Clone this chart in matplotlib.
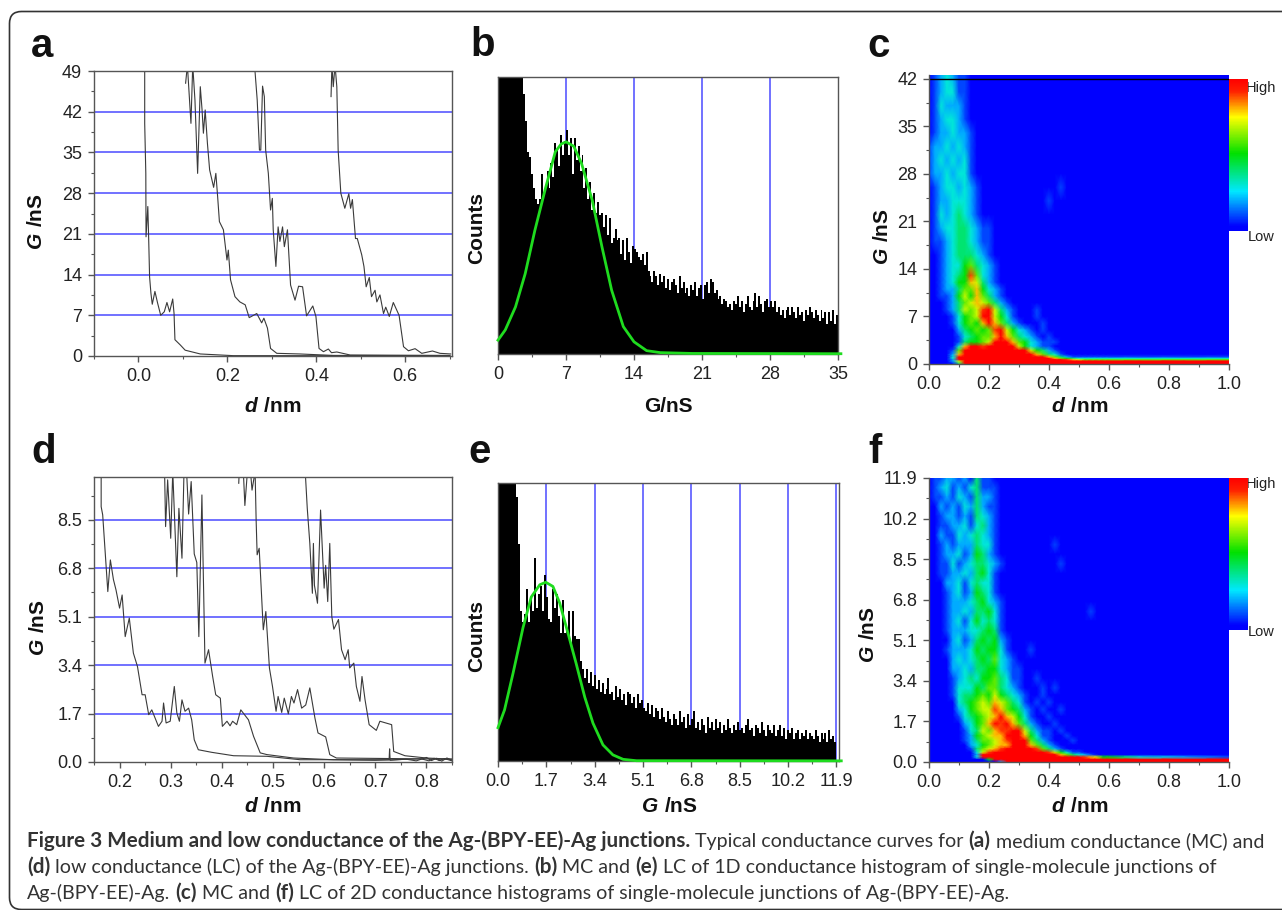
import numpy as np
import matplotlib
matplotlib.use('Agg')
import matplotlib.pyplot as plt
from matplotlib.colors import LinearSegmentedColormap
from matplotlib.patches import FancyBboxPatch
from matplotlib.ticker import MultipleLocator

plt.rcParams['font.family'] = ['Liberation Sans', 'DejaVu Sans']
plt.rcParams['mathtext.fontset'] = 'custom'
plt.rcParams['mathtext.bf'] = 'Liberation Sans:bold'
plt.rcParams['mathtext.bfit'] = 'Liberation Sans:italic:bold'

W, H = 1282, 910

# panel a, four traces (d in nm, G in nS)
a1_d = [0.014, 0.014, 0.0165, 0.017, 0.021, 0.023, 0.025, 0.028, 0.031, 0.037, 0.043, 0.050, 0.058, 0.064, 0.070, 0.077, 0.080, 0.082, 0.094, 0.105, 0.139, 0.213, 0.7]
a1_g = [50, 40, 31.4, 20.5, 25.7, 20, 13.6, 10.8, 8.9, 11.1, 9.1, 7, 7.6, 9.2, 7.6, 9.8, 7.3, 2.8, 1.9, 1.0, 0.35, 0.06, 0.05]
a2_d = [0.106, 0.110, 0.118, 0.122, 0.127, 0.133, 0.139, 0.143, 0.146, 0.150, 0.155, 0.160, 0.169, 0.174, 0.178, 0.182, 0.191, 0.199, 0.202, 0.207, 0.217, 0.228, 0.240, 0.249, 0.266, 0.277, 0.282, 0.290, 0.297, 0.311, 0.363, 0.438, 0.7]
a2_g = [46.9, 50, 40, 50, 44, 31.4, 46.3, 42.3, 38.3, 42.3, 36.6, 32, 29, 31.4, 27.4, 23.1, 21.7, 16.5, 18.2, 13.1, 10.2, 9.3, 8.8, 6.6, 7.3, 5.7, 6.5, 4.8, 1.3, 0.46, 0.35, 0.1, 0.05]
a3_d = [0.261, 0.267, 0.272, 0.275, 0.279, 0.283, 0.286, 0.292, 0.297, 0.301, 0.303, 0.309, 0.314, 0.318, 0.324, 0.328, 0.335, 0.342, 0.352, 0.360, 0.369, 0.378, 0.392, 0.399, 0.406, 0.416, 0.427, 0.434, 0.446, 0.476, 0.7]
a3_g = [50, 44, 35.4, 35.4, 46.4, 44.6, 35.4, 31.4, 25.1, 27.1, 21.7, 15.4, 22.2, 19.7, 22.2, 18.8, 21.7, 12.2, 9.6, 12, 11.9, 6.9, 8.6, 6.8, 1.3, 0.74, 1.2, 0.57, 0.69, 0.17, 0.1]
a4_d = [0.433, 0.435, 0.438, 0.442, 0.446, 0.449, 0.455, 0.464, 0.473, 0.477, 0.481, 0.488, 0.492, 0.502, 0.507, 0.512, 0.519, 0.524, 0.532, 0.536, 0.543, 0.551, 0.556, 0.564, 0.573, 0.586, 0.596, 0.607, 0.622, 0.637, 0.661, 0.678, 0.702]
a4_g = [44.6, 50, 46.3, 50, 46.3, 35.4, 28, 25.4, 27.9, 25.4, 26.9, 20.2, 20.2, 17.4, 15.4, 11.9, 13.5, 10.2, 11.3, 9.3, 10.5, 7.3, 8.4, 6.8, 9.2, 7, 1.6, 0.9, 1.26, 0.46, 0.86, 0.46, 0.35]

# panel d, four traces
d1_d = [0.164, 0.164, 0.167, 0.177, 0.182, 0.188, 0.193, 0.2, 0.205, 0.211, 0.219, 0.227, 0.235, 0.244, 0.25, 0.257, 0.263, 0.276, 0.283, 0.286, 0.291, 0.299, 0.307, 0.312, 0.317, 0.322, 0.328, 0.335, 0.341, 0.346, 0.354, 0.38, 0.423, 0.488, 0.553, 0.7, 0.727, 0.728, 0.729, 0.76, 0.78, 0.8, 0.81, 0.82, 0.83, 0.84, 0.85]
d1_g = [10.2, 8.96, 8.67, 5.98, 7.09, 6.4, 6.04, 5.4, 5.86, 4.4, 5.05, 3.82, 3.35, 2.36, 2.36, 1.66, 1.83, 1.25, 1.43, 2.07, 1.37, 1.43, 2.65, 1.72, 1.43, 2.18, 1.78, 1.89, 1.48, 0.78, 0.43, 0.34, 0.22, 0.2, 0.08, 0.08, 0.08, 0.46, 0.06, 0.1, 0.04, 0.16, 0.05, 0.13, 0.03, 0.14, 0.06]
d2_d = [0.288, 0.29, 0.294, 0.3, 0.304, 0.312, 0.316, 0.322, 0.326, 0.331, 0.335, 0.34, 0.346, 0.351, 0.355, 0.361, 0.363, 0.367, 0.374, 0.382, 0.388, 0.397, 0.401, 0.41, 0.416, 0.421, 0.429, 0.437, 0.452, 0.462, 0.475, 0.488, 0.54, 0.618, 0.7, 0.79, 0.805, 0.815, 0.825, 0.835, 0.85]
d2_g = [10.2, 8.26, 9.9, 7.85, 10.2, 6.5, 8.9, 7.15, 10.2, 10.2, 8.7, 9.84, 7.3, 7, 4.4, 9.37, 7.3, 3.47, 3.94, 3, 2.36, 2.24, 1.25, 1.43, 1.27, 1.43, 1.31, 1.83, 1.48, 0.9, 0.32, 0.26, 0.14, 0.08, 0.06, 0.11, 0.04, 0.13, 0.05, 0.12, 0.04]
d3_d = [0.433, 0.434, 0.442, 0.445, 0.45, 0.456, 0.459, 0.465, 0.467, 0.469, 0.473, 0.481, 0.486, 0.493, 0.499, 0.506, 0.51, 0.517, 0.522, 0.53, 0.536, 0.541, 0.548, 0.556, 0.564, 0.572, 0.582, 0.588, 0.603, 0.611, 0.624, 0.85]
d3_g = [9.78, 10.2, 10.2, 9, 10.2, 10.2, 9.54, 10.2, 8.5, 7.27, 7.5, 4.64, 5.28, 3.3, 2.65, 1.78, 2.3, 1.74, 2.24, 1.69, 2.3, 2.07, 2.54, 1.89, 2, 2.6, 1.54, 1.02, 0.88, 0.26, 0.14, 0.1]
d4_d = [0.563, 0.567, 0.572, 0.577, 0.579, 0.581, 0.587, 0.593, 0.6, 0.603, 0.607, 0.611, 0.615, 0.619, 0.628, 0.634, 0.641, 0.647, 0.65, 0.658, 0.663, 0.67, 0.674, 0.68, 0.688, 0.702, 0.709, 0.732, 0.736, 0.758, 0.8, 0.85]
d4_g = [10.2, 8.9, 7.67, 5.92, 7.67, 6.2, 5.57, 8.84, 6.1, 6.9, 5.63, 7.67, 5.1, 4.66, 5, 3.94, 3.59, 3.94, 3.3, 3.47, 2.65, 2.13, 3, 2.18, 1.31, 1.11, 1.43, 1.31, 0.37, 0.22, 0.14, 0.1]

# panel b, counts as percent of the plot height, one value per 0.2 nS
b_counts = [
    130, 130, 130, 130, 130, 130, 130, 130, 130, 130,
    130, 130, 130, 94, 84, 73, 71, 65, 60, 56,
    54, 56, 65, 57, 60, 66, 60, 69, 64, 76,
    74, 68, 79, 72, 77, 81, 72, 78, 65, 78,
    70, 75, 66, 72, 60, 67, 56, 62, 52, 58,
    51, 55, 50, 51, 46, 50, 43, 49, 40, 42,
    45, 41, 42, 36, 41, 34, 42, 37, 33, 39,
    38, 37, 35, 34, 36, 32, 37, 30, 28, 26,
    30, 28, 25, 29, 26, 28, 24, 27, 23, 26,
    27, 25, 22, 28, 24, 26, 22, 24, 21, 25,
    23, 26, 21, 24, 25, 20, 25, 26, 22, 27,
    26, 22, 23, 20, 21, 18, 20, 19, 17, 18,
    16, 19, 18, 21, 17, 19, 15, 18, 21, 17,
    16, 19, 22, 17, 21, 18, 15, 19, 20, 17,
    19, 17, 19, 15, 17, 14, 16, 13, 16, 17,
    14, 17, 15, 13, 17, 14, 15, 12, 16, 14,
    17, 15, 13, 16, 14, 12, 16, 13, 15, 11,
    15, 12, 16, 11, 14]
b_fit_x = [0, 0.75, 1.8, 2.8, 3.8, 4.9, 5.9, 6.5, 7, 7.8, 8.6, 9.7, 10.7, 11.7, 12.9, 14, 15.3, 16.7, 20, 35.3]
b_fit_y = [5, 8.7, 17, 29, 44.7, 60, 73, 75.8, 76.6, 75, 68.8, 55.5, 38.7, 23, 9.9, 4.4, 1.2, 0.5, 0.2, 0.1]

# panel e, one value per 0.07 nS
e_counts = [
    130, 130, 130, 130, 130, 130, 130, 130, 130, 95,
    78, 54, 50, 53, 62, 50, 59, 54, 73, 55,
    60, 63, 54, 67, 59, 51, 50, 62, 55, 60,
    52, 46, 58, 46, 48, 54, 42, 54, 45, 44,
    44, 36, 33, 30, 33, 28, 32, 27, 31, 26,
    29, 25, 28, 24, 26, 30, 24, 25, 22, 27,
    23, 26, 22, 24, 20, 25, 24, 21, 23, 19,
    24, 21, 22, 19, 18, 21, 17, 20, 16, 19,
    18, 15, 19, 16, 14, 18, 15, 13, 17, 15,
    13, 18, 14, 16, 12, 17, 13, 15, 18, 12,
    14, 11, 15, 13, 10, 16, 12, 14, 11, 15,
    12, 14, 10, 13, 11, 15, 12, 10, 13, 11,
    14, 11, 12, 10, 13, 15, 11, 12, 9, 13,
    12, 10, 14, 11, 9, 13, 11, 10, 13, 9,
    11, 13, 9, 12, 8, 11, 10, 12, 8, 10,
    11, 8, 10, 9, 11, 8, 10, 9, 8, 11,
    9, 7, 10, 8, 10, 7, 11, 8, 9, 7]
e_fit_x = [0, 0.23, 0.53, 0.88, 1.17, 1.47, 1.68, 1.93, 2.17, 2.46, 2.75, 3.05, 3.34, 3.69, 4.04, 4.4, 4.87, 12.07]
e_fit_y = [12, 18.4, 31.6, 48, 59, 63.4, 64.3, 62.8, 56.8, 46, 35, 23, 13.6, 5.8, 2.2, 0.6, 0.1, 0.05]

# 2D histograms, levels 0-10 (a = 10) read by eye from the colour map
# columns are 0, .02 ... .6, then .7, .85, 1.0 nm
map_d = [0, .02, .04, .06, .08, .1, .12, .14, .16, .18, .2, .22, .24, .26, .28, .3, .32, .34, .36, .38,
         .4, .42, .44, .46, .48, .5, .52, .54, .56, .58, .6, .7, .85, 1.0]
c_g = [42.6, 40, 38, 36, 34, 32, 30, 28, 26, 24, 22, 20, 18, 16, 14.5, 13, 12, 11, 10, 9, 8, 7, 6, 5, 4, 3.2, 2.6, 2, 1.4, 1, .8, .6, .4, 0]
c_levels = [
    "01232 11000 00000 00000 00000 00000 0000",
    "01233 11000 00000 00000 00000 00000 0000",
    "01322 21000 00000 00000 00000 00000 0000",
    "01233 21000 00000 00000 00000 00000 0000",
    "01223 22100 00000 00000 00000 00000 0000",
    "12232 32100 00000 00000 00000 00000 0000",
    "12323 23100 00000 00000 00000 00000 0000",
    "12232 33100 00000 00000 00000 00000 0000",
    "01233 23210 00000 00000 00100 00000 0000",
    "01223 33210 00000 00000 10000 00000 0000",
    "01323 43210 00000 00000 00000 00000 0000",
    "01233 44321 10000 00000 00000 00000 0000",
    "01123 44321 10000 00000 00000 00000 0000",
    "00123 44432 10000 00000 00000 00000 0000",
    "00123 35643 21000 00000 00000 00000 0000",
    "00123 45963 21000 00000 00000 00000 0000",
    "00123 55874 21000 00000 00000 00000 0000",
    "00122 46685 32100 00000 00000 00000 0000",
    "00112 57586 42100 00000 00000 00000 0000",
    "00012 46787 64210 00000 00000 00000 0000",
    "00012 47679 a7421 00010 00000 00000 0000",
    "00001 3567a a7531 00010 00000 00000 0000",
    "00001 35658 a8642 10001 00000 00000 0000",
    "00000 24565 69a75 32101 00000 00000 0000",
    "00000 13456 68a86 43210 10000 00000 0000",
    "00000 14556 7aaa8 65321 11000 00000 0000",
    "00000 38aa9 aaaaa 75321 10000 00000 0000",
    "00001 6aaaa aaaaa aa754 21000 00000 0000",
    "00002 8aaaa aaaaa aaa86 43100 00000 0000",
    "00003 aaaaa aaaaa aaaaa 86421 11111 1111",
    "00003 aaaaa aaaaa aaaaa a8654 33333 3333",
    "00002 aaaaa aaaaa aaaaa aaa98 76666 6666",
    "00002 7aaaa aaaaa aaaaa aaaaa aaaaa aaaa",
    "00000 4aaaa aaaaa aaaaa aaaaa aaaaa aaaa",
]
f_g = [11.9, 11.5, 11.1, 10.7, 10.3, 9.9, 9.5, 9.1, 8.7, 8.3, 7.9, 7.5, 7.1, 6.7, 6.3, 5.9, 5.5, 5.1, 4.7, 4.3, 3.9, 3.5, 3.1, 2.8, 2.5, 2.2, 1.9, 1.6, 1.3, 1.1, .9, .7, .55, .4, .3, .2, .1, 0]
f_levels = [
    "01122 12041 10000 00000 00000 00000 0000",
    "01231 21341 11000 00000 00000 00000 0000",
    "01121 32142 21000 00000 00000 00000 0000",
    "00212 13242 11000 00000 00000 00000 0000",
    "00122 12143 21000 00000 00000 00000 0000",
    "00112 23134 21000 00000 00000 00000 0000",
    "00211 32343 21000 00000 00000 00000 0000",
    "00121 22243 31000 00000 01000 00000 0000",
    "00122 31254 21000 00000 00000 00000 0000",
    "00113 12344 32100 00000 00100 00000 0000",
    "00112 23245 31000 00000 00000 00000 0000",
    "00022 31343 31000 00000 00000 00000 0000",
    "00012 31254 31000 00000 00000 00000 0000",
    "00012 22345 32100 00000 00000 00000 0000",
    "00012 23244 53100 00000 00000 00100 0000",
    "00012 31353 43100 00000 00000 00000 0000",
    "00012 22334 54100 00000 00000 00000 0000",
    "00002 31245 45210 00000 00000 00000 0000",
    "00012 22354 55310 00100 00000 00000 0000",
    "00002 32345 46321 00000 00000 00000 0000",
    "00002 23244 55321 10000 00000 00000 0000",
    "00001 23435 56431 10010 00000 00000 0000",
    "00001 33354 66432 10001 01000 00000 0000",
    "00001 34456 57543 21001 00000 00000 0000",
    "00000 34567 68764 31010 10000 00000 0000",
    "00000 23567 79865 42101 00100 00000 0000",
    "00000 13456 78a87 53100 10000 00000 0000",
    "00000 02356 8a9a8 64210 01000 00000 0000",
    "00000 01347 6899a a7421 10100 00000 0000",
    "00000 01256 788aa a8531 10010 00000 0000",
    "00000 01246 6789a aa642 10001 00000 0000",
    "00000 00235 6788a aa864 21000 00000 0000",
    "00000 00146 789aa aaa96 42100 00000 0000",
    "00000 00037 9aaaa aaaaa 97531 10000 0000",
    "00000 0002a aaaaa aaaaa aa864 32100 0000",
    "00000 0003a aaaaa aaaaa aaaaa a9875 5321",
    "00000 00000 5aaaa aaaaa aaaaa aaaaa aaaa",
    "00000 00000 002aa aaaaa aaaaa aaaaa aaaa",
]

caption_lines = [
    [("Figure 3 Medium and low conductance of the Ag-(BPY-EE)-Ag junctions.", True),
     ("Typical conductance curves for", False), ("(a)", True), ("medium conductance (MC) and", False)],
    [("(d)", True), ("low conductance (LC) of the Ag-(BPY-EE)-Ag junctions.", False), ("(b)", True),
     ("MC and", False), ("(e)", True), ("LC of 1D conductance histogram of single-molecule junctions of", False)],
    [("Ag-(BPY-EE)-Ag.", False), ("(c)", True), ("MC and", False), ("(f)", True),
     ("LC of 2D conductance histograms of single-molecule junctions of Ag-(BPY-EE)-Ag.", False)],
]

BLUE = '#4a4aff'
GREEN = '#1fdc1f'
GREY = '#555555'
TEXT = '#222222'

jet_like = LinearSegmentedColormap.from_list('jet_like', [
    (0.0, '#0000ff'), (0.03, '#0000ff'), (0.26, '#00e8ff'), (0.51, '#00e000'),
    (0.75, '#ffff00'), (0.92, '#ff2000'), (1.0, '#ff0000')])

fig = plt.figure(figsize=(W / 100, H / 100), dpi=100)

# whole figure in pixels, for the frame and the loose text
bg = fig.add_axes([0, 0, 1, 1], zorder=-1)
bg.set_xlim(0, W)
bg.set_ylim(H, 0)
bg.axis('off')
bg.add_patch(FancyBboxPatch((9.5, 11.5), 1320, 898, boxstyle='round,pad=0,rounding_size=12',
                            fc='white', ec='#333333', lw=1.2))


def px_axes(left, top, right, bottom):
    return fig.add_axes([left / W, 1 - bottom / H, (right - left) / W, (bottom - top) / H])


def style_axes(ax, pad=4.5):
    for s in ax.spines.values():
        s.set_color(GREY)
        s.set_linewidth(1)
    ax.tick_params(which='major', length=4, width=1, color=GREY, labelsize=13, labelcolor=TEXT, pad=pad)
    ax.tick_params(which='minor', length=2.5, width=0.8, color=GREY)


def trace_panel(ax, traces, gridlines):
    for g in gridlines:
        ax.axhline(g, color=BLUE, lw=1.1, zorder=1)
    for xs, ys in traces:
        ax.plot(xs, ys, color='#3a3a3a', lw=0.8, zorder=2)


def hist_panel(ax, counts, step, fit_x, fit_y, gridlines):
    for g in gridlines:
        ax.axvline(g, color=BLUE, lw=1.1, zorder=1)
    ax.bar(np.arange(len(counts)) * step, counts, width=step, align='edge', color='black', lw=0, zorder=2)
    ax.plot(fit_x, fit_y, color=GREEN, lw=2, zorder=3, clip_on=False)
    ax.set_ylim(0, 100)
    ax.set_yticks([])


def map_panel(ax, cax, ds, gs, levels):
    z = np.array([[int(ch, 16) for ch in row.replace(' ', '')] for row in levels], dtype=float)
    mesh = ax.pcolormesh(ds, gs, z, cmap=jet_like, vmin=0, vmax=10, shading='gouraud')
    fig.colorbar(mesh, cax=cax)
    cax.set_yticks([])
    for s in cax.spines.values():
        s.set_visible(False)
    ax.set_xlim(0, 1)
    ax.set_xticks([0, 0.2, 0.4, 0.6, 0.8, 1.0])
    ax.xaxis.set_minor_locator(MultipleLocator(0.1))
    for side in ['top', 'right']:
        ax.spines[side].set_visible(False)


# a
ax_a = px_axes(94, 71, 452, 356)
trace_panel(ax_a, [(a1_d, a1_g), (a2_d, a2_g), (a3_d, a3_g), (a4_d, a4_g)], [7, 14, 21, 28, 35, 42])
ax_a.set_xlim(-0.1, 0.705)
ax_a.set_ylim(0, 49)
ax_a.set_xticks([0, 0.2, 0.4, 0.6])
ax_a.set_yticks([0, 7, 14, 21, 28, 35, 42, 49])
ax_a.xaxis.set_minor_locator(MultipleLocator(0.1))
ax_a.yaxis.set_minor_locator(MultipleLocator(3.5))
style_axes(ax_a)

# d
ax_d = px_axes(94, 477, 452, 762)
trace_panel(ax_d, [(d1_d, d1_g), (d2_d, d2_g), (d3_d, d3_g), (d4_d, d4_g)], [1.7, 3.4, 5.1, 6.8, 8.5])
ax_d.set_xlim(0.15, 0.85)
ax_d.set_ylim(0, 10)
ax_d.set_xticks([0.2, 0.3, 0.4, 0.5, 0.6, 0.7, 0.8])
ax_d.set_yticks([0, 1.7, 3.4, 5.1, 6.8, 8.5])
ax_d.set_yticklabels(['0.0', '1.7', '3.4', '5.1', '6.8', '8.5'])
ax_d.xaxis.set_minor_locator(MultipleLocator(0.05))
ax_d.yaxis.set_minor_locator(MultipleLocator(0.85))
style_axes(ax_d)

# b
ax_b = px_axes(498, 77, 838, 354)
hist_panel(ax_b, b_counts, 0.2, b_fit_x, b_fit_y, [7, 14, 21, 28])
ax_b.set_xlim(0, 35)
ax_b.set_xticks([0, 7, 14, 21, 28, 35])
ax_b.xaxis.set_minor_locator(MultipleLocator(3.5))
style_axes(ax_b)

# e
ax_e = px_axes(498, 483, 839, 761)
hist_panel(ax_e, e_counts, 0.07, e_fit_x, e_fit_y, [1.7, 3.4, 5.1, 6.8, 8.5, 10.2, 11.9])
ax_e.set_xlim(0, 11.99)
ax_e.set_xticks([0, 1.7, 3.4, 5.1, 6.8, 8.5, 10.2, 11.9])
ax_e.set_xticklabels(['0.0', '1.7', '3.4', '5.1', '6.8', '8.5', '10.2', '11.9'])
ax_e.xaxis.set_minor_locator(MultipleLocator(0.85))
style_axes(ax_e)

# c
ax_c = px_axes(929, 75, 1229, 364)
cax_c = px_axes(1229, 79, 1248, 231)
map_panel(ax_c, cax_c, map_d, c_g, c_levels)
ax_c.axhline(42, color='black', lw=1)
ax_c.set_ylim(0, 42.55)
ax_c.set_yticks([0, 7, 14, 21, 28, 35, 42])
ax_c.yaxis.set_minor_locator(MultipleLocator(3.5))
style_axes(ax_c)

# f
ax_f = px_axes(929, 478, 1229, 762)
cax_f = px_axes(1229, 478, 1248, 630)
map_panel(ax_f, cax_f, map_d, f_g, f_levels)
ax_f.set_ylim(0, 11.9)
ax_f.set_yticks([0, 1.7, 3.4, 5.1, 6.8, 8.5, 10.2, 11.9])
ax_f.set_yticklabels(['0.0', '1.7', '3.4', '5.1', '6.8', '8.5', '10.2', '11.9'])
ax_f.yaxis.set_minor_locator(MultipleLocator(0.85))
style_axes(ax_f)

# panel letters
for letter, x, y in [('a', 31, 57), ('b', 470, 56), ('c', 867, 57), ('d', 31, 463), ('e', 468, 463), ('f', 868, 463)]:
    bg.text(x, y, letter, fontsize=29, fontweight='bold', ha='left', va='baseline', color='#111111')

# axis labels, placed by hand in pixels
G_NS = r'$\mathbfit{G}\ \mathbf{/nS}$'
D_NM = r'$\mathbfit{d}\ \mathbf{/nm}$'
label_kw = dict(fontsize=15, ha='center', va='center', color='#111111')
bg.text(273, 407, D_NM, **label_kw)
bg.text(668, 407, 'G/nS', fontweight='bold', **label_kw)
bg.text(1080, 407, D_NM, **label_kw)
bg.text(273, 807, D_NM, **label_kw)
bg.text(669, 807, G_NS, **label_kw)
bg.text(1080, 807, D_NM, **label_kw)
bg.text(37, 222, G_NS, rotation=90, **label_kw)
bg.text(883, 237, G_NS, rotation=90, **label_kw)
bg.text(38, 628, G_NS, rotation=90, **label_kw)
bg.text(869, 635, G_NS, rotation=90, **label_kw)
bg.text(477, 228, 'Counts', fontweight='bold', rotation=90, **label_kw)
bg.text(477, 636, 'Counts', fontweight='bold', rotation=90, **label_kw)

# colour bar ends
for txt, y in [('High', 88), ('Low', 237), ('High', 484), ('Low', 632)]:
    bg.text(1261, y, txt, fontsize=10.5, ha='center', va='center', color=TEXT, zorder=5)

# caption, bold and regular runs set one after the other
renderer = fig.canvas.get_renderer()
cap_family = ['Lato', 'DejaVu Sans']
probe = bg.text(0, 0, 'a b', fontsize=14.1, family=cap_family)
w1 = probe.get_window_extent(renderer).width
probe.set_text('ab')
space = w1 - probe.get_window_extent(renderer).width
probe.remove()
for line, y in zip(caption_lines, [847, 873, 899]):
    x = 27
    for run, is_bold in line:
        t = bg.text(x, y, run, fontsize=14.9 if is_bold else 14.1, family=cap_family,
                    fontweight='bold' if is_bold else 'normal', va='baseline', color='#333333')
        x += t.get_window_extent(renderer).width + space

fig.savefig('out.png', dpi=100)
